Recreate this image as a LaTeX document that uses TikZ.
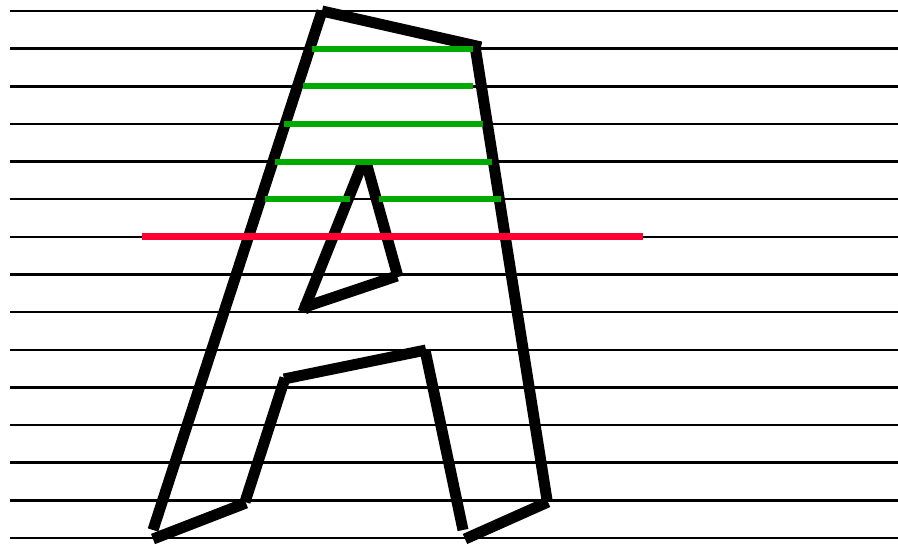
\documentclass[tikz,border=0pt]{standalone}
\usepackage{tikz}
\usetikzlibrary{calc}

\definecolor{scangreen}{RGB}{0,170,0}
\definecolor{scanred}{RGB}{255,0,51}

\tikzset{
  scanline/.style={line width=1.25pt, black},
  glyph/.style={line width=5.5pt, black},
  fillspan/.style={line width=3pt, scangreen},
  currentspan/.style={line width=3.5pt, scanred}
}

\begin{document}
\begin{tikzpicture}[x=0.5pt, y=-0.5pt]
            \useasboundingbox (0,0) rectangle (898,544);

            % Horizontal scan lines
            \foreach \k in {0,...,14}
              \draw[scanline] (10,11+37.64*\k) -- (898,11+37.64*\k);

            % Outer outline of the letter, edge by edge
            \draw[glyph] (153,530) -- (322,11);
            \draw[glyph] (322,11) -- (481,47);
            \draw[glyph] (475,46) -- (547,500);
            \draw[glyph] (548,502) -- (465,539);
            \draw[glyph] (463,530) -- (425,350);
            \draw[glyph] (426,350) -- (284,379);
            \draw[glyph] (285,378) -- (245,502);
            \draw[glyph] (246,503) -- (153,539);

            % Inner triangle (the hole)
            \draw[glyph] (363,162) -- (303,312);
            \draw[glyph] (302,308) -- (397,276);
            \draw[glyph] (398,277) -- (366,162);

            % Filled spans (green), on top of the outline
            \draw[fillspan] (312,48.6) -- (473,48.6);
            \draw[fillspan] (303,86.3) -- (473,86.3);
            \draw[fillspan] (284,123.9) -- (483,123.9);
            \draw[fillspan] (275,161.6) -- (492,161.6);
            \draw[fillspan] (265,199.2) -- (350,199.2);
            \draw[fillspan] (379,199.2) -- (501,199.2);

            % Current scan line (red)
            \draw[currentspan] (142,236.8) -- (643,236.8);
        \end{tikzpicture}
\end{document}
